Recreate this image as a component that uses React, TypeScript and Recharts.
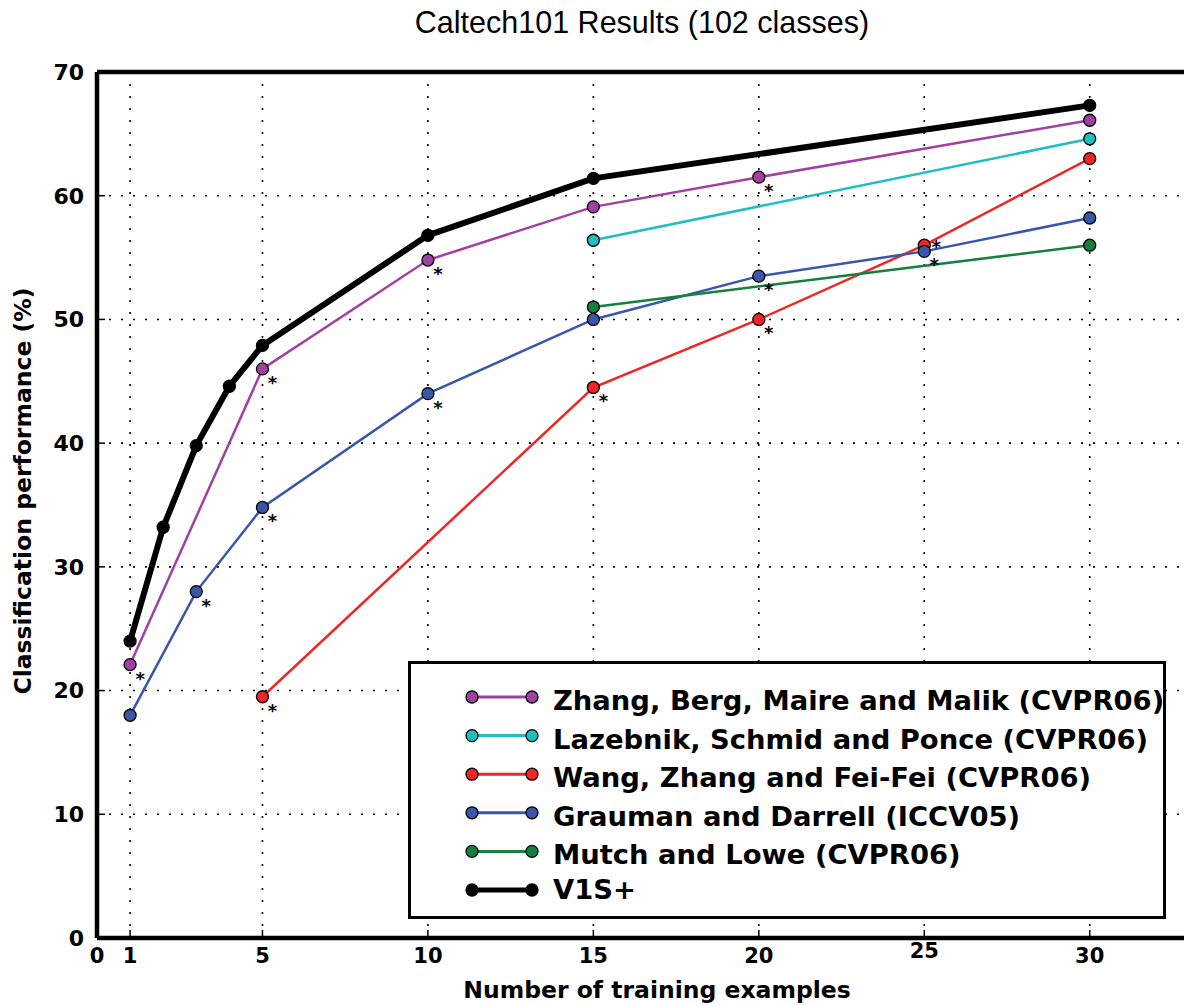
import { LineChart, Line, XAxis, YAxis, CartesianGrid, Legend, Label } from "recharts";

const xTicks = [0, 1, 5, 10, 15, 20, 25, 30];
const yTicks = [0, 10, 20, 30, 40, 50, 60, 70];

const zhangX = [1, 5, 10, 15, 20, 30];
const zhangY = [22.1, 46.0, 54.8, 59.1, 61.5, 66.1];
const zhangStar = [1, 5, 10, 20];

const lazebnikX = [15, 30];
const lazebnikY = [56.4, 64.6];

const wangX = [5, 15, 20, 25, 30];
const wangY = [19.5, 44.5, 50.0, 56.0, 63.0];
const wangStar = [5, 15, 20, 25];
const wangStarUp = [25];

const graumanX = [1, 3, 5, 10, 15, 20, 25, 30];
const graumanY = [18.0, 28.0, 34.8, 44.0, 50.0, 53.5, 55.5, 58.2];
const graumanStar = [3, 5, 10, 20, 25];

const mutchX = [15, 30];
const mutchY = [51.0, 56.0];

const v1sX = [1, 2, 3, 4, 5, 10, 15, 30];
const v1sY = [24.0, 33.2, 39.8, 44.6, 47.9, 56.8, 61.4, 67.3];

const FONT = '"DejaVu Sans", Verdana, sans-serif';

const toPoints = (xs: number[], ys: number[]) => xs.map((x, i) => ({ x, y: ys[i] }));

type Series = {
  name: string;
  color: string;
  width: number;
  r: number;
  data: { x: number; y: number }[];
  stars: number[];
  starsUp: number[];
};

const series: Series[] = [
  { name: "Zhang, Berg, Maire and Malik (CVPR06)", color: "#a040a0", width: 2.5, r: 6, data: toPoints(zhangX, zhangY), stars: zhangStar, starsUp: [] },
  { name: "Lazebnik, Schmid and Ponce (CVPR06)", color: "#20bfbf", width: 2.5, r: 6, data: toPoints(lazebnikX, lazebnikY), stars: [], starsUp: [] },
  { name: "Wang, Zhang and Fei-Fei (CVPR06)", color: "#f02626", width: 2.5, r: 6, data: toPoints(wangX, wangY), stars: wangStar, starsUp: wangStarUp },
  { name: "Grauman and Darrell (ICCV05)", color: "#3a56a8", width: 2.5, r: 6, data: toPoints(graumanX, graumanY), stars: graumanStar, starsUp: [] },
  { name: "Mutch and Lowe (CVPR06)", color: "#148040", width: 2.5, r: 6, data: toPoints(mutchX, mutchY), stars: [], starsUp: [] },
  { name: "V1S+", color: "#000000", width: 6, r: 6, data: toPoints(v1sX, v1sY), stars: [], starsUp: [] },
];

const makeDot = (s: Series) => (props: any) => {
  const { cx, cy, payload, index } = props;
  if (cx == null || cy == null) return <g key={`${s.name}-${index}`} />;
  const star = s.stars.includes(payload.x);
  const up = s.starsUp.includes(payload.x);
  return (
    <g key={`${s.name}-${index}`}>
      <circle cx={cx} cy={cy} r={s.r} fill={s.color} stroke="#000" strokeWidth={1.3} />
      {star && (
        <text
          x={cx + (up ? 12 : 10)}
          y={up ? cy + 8 : cy + 20}
          textAnchor="middle"
          fontFamily={FONT}
          fontWeight="bold"
          fontSize={18}
          fill="#000"
        >
          *
        </text>
      )}
    </g>
  );
};

const XTick = (props: any) => {
  const { x, y, payload } = props;
  const lift = payload.value === 25 ? 5 : 0;
  return (
    <text x={x} y={y + 25 - lift} textAnchor="middle" fontFamily={FONT} fontWeight="bold" fontSize={21} fill="#000">
      {payload.value}
    </text>
  );
};

function LegendBox() {
  return (
    <svg width={758} height={258} style={{ display: "block" }}>
      <rect x={1.5} y={1.5} width={755} height={255} fill="#fff" stroke="#000" strokeWidth={3} />
      {series.map((s, i) => {
        const cy = 36 + i * 38.6;
        const base = /[gjpqy(),]/.test(s.name) ? 13 : 9;
        return (
          <g key={s.name}>
            <line x1={64} x2={124} y1={cy} y2={cy} stroke={s.color} strokeWidth={s.width === 6 ? 5 : 3} />
            <circle cx={64} cy={cy} r={s.r} fill={s.color} stroke="#000" strokeWidth={1.3} />
            <circle cx={124} cy={cy} r={s.r} fill={s.color} stroke="#000" strokeWidth={1.3} />
            <text x={145} y={cy + base} fontFamily={FONT} fontWeight="bold" fontSize={27.4} fill="#000">
              {s.name}
            </text>
          </g>
        );
      })}
    </svg>
  );
}

export default function App() {
  return (
    <div style={{ position: "absolute", left: 0, top: 0, width: 1184, height: 1006, overflow: "hidden", background: "#fff" }}>
      <div
        style={{
          position: "absolute",
          top: 4,
          left: 342,
          width: 600,
          textAlign: "center",
          fontFamily: '"Liberation Sans", Arial, sans-serif',
          fontSize: 30.5,
          lineHeight: "36px",
          color: "#000",
        }}
      >
        Caltech101 Results (102 classes)
      </div>
      <LineChart width={1200} height={1006} margin={{ top: 71, left: 96, right: 11, bottom: 67 }}>
        <CartesianGrid stroke="#000" strokeWidth={1.6} strokeDasharray="2 10" />
        <XAxis
          dataKey="x"
          type="number"
          domain={[0, 33]}
          ticks={xTicks}
          interval={0}
          height={1}
          tickSize={-8}
          tickMargin={8}
          tick={<XTick />}
          axisLine={{ stroke: "#000", strokeWidth: 4.5 }}
          tickLine={{ stroke: "#000", strokeWidth: 1.5 }}
        >
          <Label
            content={(p: any) => {
              const vb = p.viewBox || { x: 97, width: 1092 };
              return (
                <text
                  x={vb.x + vb.width / 2 + 14}
                  y={990}
                  textAnchor="middle"
                  dominantBaseline="central"
                  fontFamily={FONT}
                  fontWeight="bold"
                  fontSize={23.5}
                  fill="#000"
                >
                  Number of training examples
                </text>
              );
            }}
          />
        </XAxis>
        <XAxis
          xAxisId="top"
          orientation="top"
          dataKey="x"
          type="number"
          domain={[0, 33]}
          ticks={xTicks}
          interval={0}
          height={1}
          tickSize={-8}
          tick={false}
          axisLine={{ stroke: "#000", strokeWidth: 4.5 }}
          tickLine={{ stroke: "#000", strokeWidth: 1.5 }}
        />
        <YAxis
          type="number"
          domain={[0, 70]}
          ticks={yTicks}
          interval={0}
          width={1}
          tickSize={-8}
          tickMargin={21}
          tick={{ fontFamily: FONT, fontWeight: "bold", fontSize: 22, fill: "#000" }}
          axisLine={{ stroke: "#000", strokeWidth: 4.5 }}
          tickLine={{ stroke: "#000", strokeWidth: 1.5 }}
        >
          <Label
            content={(p: any) => {
              const vb = p.viewBox || { x: 97, y: 72, height: 866 };
              const cx = 23;
              const cy = vb.y + vb.height / 2 - 14;
              return (
                <text
                  x={cx}
                  y={cy}
                  transform={`rotate(-90 ${cx} ${cy})`}
                  textAnchor="middle"
                  dominantBaseline="central"
                  fontFamily={FONT}
                  fontWeight="bold"
                  fontSize={23.5}
                  fill="#000"
                >
                  Classification performance (%)
                </text>
              );
            }}
          />
        </YAxis>
        {series.map((s) => (
          <Line
            key={s.name}
            name={s.name}
            data={s.data}
            dataKey="y"
            type="linear"
            stroke={s.color}
            strokeWidth={s.width}
            dot={makeDot(s)}
            activeDot={false}
            isAnimationActive={false}
          />
        ))}
        <Legend
          layout="vertical"
          align="center"
          verticalAlign="middle"
          wrapperStyle={{ left: 408, top: 661, width: 758, height: 258 }}
          content={() => <LegendBox />}
        />
      </LineChart>
    </div>
  );
}
